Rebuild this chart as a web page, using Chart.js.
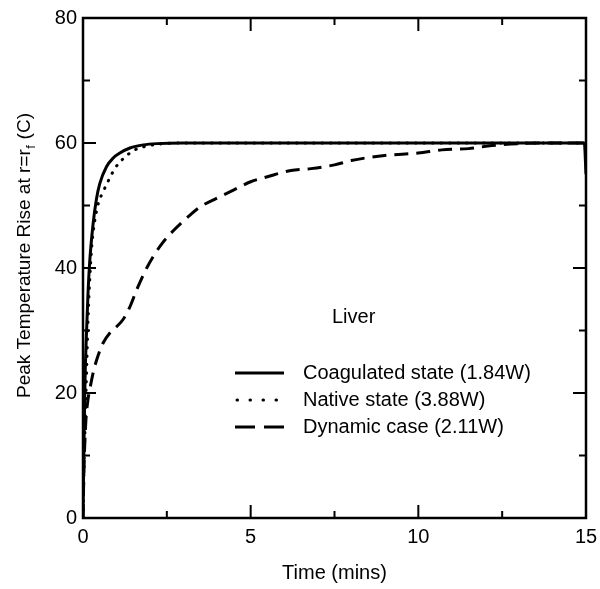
<!DOCTYPE html>
<html>
<head>
<script src="https://cdn.jsdelivr.net/npm/chart.js@4.4.8/dist/chart.umd.min.js"></script>
<style>
  body { margin: 0; background: #fff; }
  #wrap { width: 600px; height: 589px; }
</style>
</head>
<body>
<div id="wrap"><canvas id="c"></canvas></div>
<script>
// values
const coagT = [0, 0.03, 0.06, 0.1, 0.15, 0.2, 0.3, 0.4, 0.5, 0.7, 0.9, 1.1, 1.4, 1.8, 2.2, 3, 14.95, 15];
const coagV = [0, 12, 22, 29, 36, 41, 47, 51, 53.5, 56.2, 57.6, 58.4, 59.2, 59.7, 59.9, 60, 60, 55];

const nativeT = [0, 0.04, 0.08, 0.12, 0.16, 0.2, 0.26, 0.35, 0.46, 0.6, 0.76, 0.96, 1.2, 1.55, 1.9, 2.4, 3, 15];
const nativeV = [0, 10, 18, 26, 33, 38, 43.4, 47.5, 50.4, 52.2, 54, 56, 57.5, 58.9, 59.5, 59.9, 60, 60];

const dynT = [0, 0.03, 0.08, 0.15, 0.21, 0.31, 0.45, 0.6, 0.8, 1.0, 1.2, 1.4, 1.6, 1.9, 2.3, 2.7, 3.2, 3.5, 4.0, 4.5, 5.0, 5.5, 6.2, 6.8, 7.5, 8.0, 9.0, 10, 10.7, 11.5, 12.2, 13, 14, 15];
const dynV = [0, 8, 15, 19, 20.8, 23.4, 26, 28, 29.6, 30.6, 31.8, 33.8, 36.5, 40, 43.5, 46, 48.5, 49.8, 51.2, 52.5, 53.8, 54.6, 55.6, 55.9, 56.5, 57.2, 58, 58.4, 58.9, 59.1, 59.6, 59.9, 60, 60];

const seriesNames = ['Coagulated state (1.84W)', 'Native state (3.88W)', 'Dynamic case (2.11W)'];
const xMajor = [0, 5, 10, 15];
const xMinor = [2.5, 7.5, 12.5];
const yMajor = [0, 20, 40, 60, 80];
const yMinor = [10, 30, 50, 70];

const FONT = '"Liberation Sans", Arial, sans-serif';
const pts = (t, v) => t.map((x, i) => ({ x: x, y: v[i] }));

const dashes = [[], [0.5, 8], [14, 8]];

const framePlugin = {
  id: 'frame',
  afterDraw(chart) {
    const ctx = chart.ctx;
    const a = chart.chartArea;
    const xs = chart.scales.x, ys = chart.scales.y;
    ctx.save();
    ctx.strokeStyle = '#000';
    ctx.lineCap = 'butt';
    // ticks
    ctx.lineWidth = 2;
    const tick = (vals, len, isX) => {
      vals.forEach(v => {
        ctx.beginPath();
        if (isX) {
          const p = xs.getPixelForValue(v);
          ctx.moveTo(p, a.bottom); ctx.lineTo(p, a.bottom - len);
          ctx.moveTo(p, a.top); ctx.lineTo(p, a.top + len);
        } else {
          const p = ys.getPixelForValue(v);
          ctx.moveTo(a.left, p); ctx.lineTo(a.left + len, p);
          ctx.moveTo(a.right, p); ctx.lineTo(a.right - len, p);
        }
        ctx.stroke();
      });
    };
    tick(xMajor, 13, true);
    tick(xMinor, 7, true);
    tick(yMajor, 13, false);
    tick(yMinor, 7, false);
    // frame
    ctx.lineWidth = 2.5;
    ctx.strokeRect(a.left, a.top, a.right - a.left, a.bottom - a.top);

    // axis titles
    ctx.fillStyle = '#000';
    ctx.font = '20px ' + FONT;
    ctx.textAlign = 'center';
    ctx.textBaseline = 'middle';
    ctx.fillText('Time (mins)', (a.left + a.right) / 2, 573);

    ctx.save();
    ctx.translate(25, 256);
    ctx.rotate(-Math.PI / 2);
    const p1 = 'Peak Temperature Rise at r=r';
    const sub = 'f';
    const p2 = ' (C)';
    ctx.font = '19px ' + FONT;
    const w1 = ctx.measureText(p1).width;
    const w3 = ctx.measureText(p2).width;
    ctx.font = '13px ' + FONT;
    const w2 = ctx.measureText(sub).width;
    let x0 = -(w1 + w2 + w3) / 2;
    ctx.textAlign = 'left';
    ctx.font = '19px ' + FONT;
    ctx.fillText(p1, x0, 0);
    ctx.font = '13px ' + FONT;
    ctx.fillText(sub, x0 + w1 + 0.5, 6);
    ctx.font = '19px ' + FONT;
    ctx.fillText(p2, x0 + w1 + w2 + 1, 0);
    ctx.restore();

    // annotation + legend
    ctx.textAlign = 'left';
    ctx.font = '20px ' + FONT;
    ctx.fillText('Liver', 332, 317);
    const rows = [373, 400, 427];
    const legDash = [[], [0.5, 12.5], [20, 9]];
    seriesNames.forEach((name, i) => {
      ctx.beginPath();
      ctx.lineWidth = 3;
      ctx.lineCap = i === 1 ? 'round' : 'butt';
      ctx.setLineDash(legDash[i]);
      ctx.moveTo(i === 1 ? 237 : 235, rows[i]);
      ctx.lineTo(284, rows[i]);
      ctx.stroke();
      ctx.setLineDash([]);
      ctx.fillText(name, 303, rows[i]);
    });
    ctx.restore();
  }
};

new Chart(document.getElementById('c'), {
  type: 'line',
  data: {
    datasets: [
      { label: seriesNames[0], data: pts(coagT, coagV) },
      { label: seriesNames[1], data: pts(nativeT, nativeV) },
      { label: seriesNames[2], data: pts(dynT, dynV) }
    ].map((d, i) => Object.assign(d, {
      borderColor: '#000',
      borderWidth: 3,
      borderDash: dashes[i],
      borderCapStyle: i === 1 ? 'round' : 'butt',
      pointRadius: 0,
      cubicInterpolationMode: 'monotone',
      fill: false
    }))
  },
  options: {
    responsive: true,
    maintainAspectRatio: false,
    animation: false,
    events: [],
    layout: { padding: { top: 16, right: 0, left: 0, bottom: 0 } },
    plugins: { legend: { display: false }, tooltip: { enabled: false } },
    scales: {
      x: {
        type: 'linear', min: 0, max: 15,
        grid: { display: false, drawTicks: false },
        border: { display: false },
        ticks: { stepSize: 5, color: '#000', padding: 7, font: { family: FONT, size: 20 }, maxRotation: 0 },
        afterFit(s) { s.height = 71; s.paddingRight = 14; }
      },
      y: {
        min: 0, max: 80,
        grid: { display: false, drawTicks: false },
        border: { display: false },
        ticks: { stepSize: 20, color: '#000', padding: 6, font: { family: FONT, size: 20 } },
        afterFit(s) { s.width = 83; }
      }
    }
  },
  plugins: [framePlugin]
});
</script>
</body>
</html>
